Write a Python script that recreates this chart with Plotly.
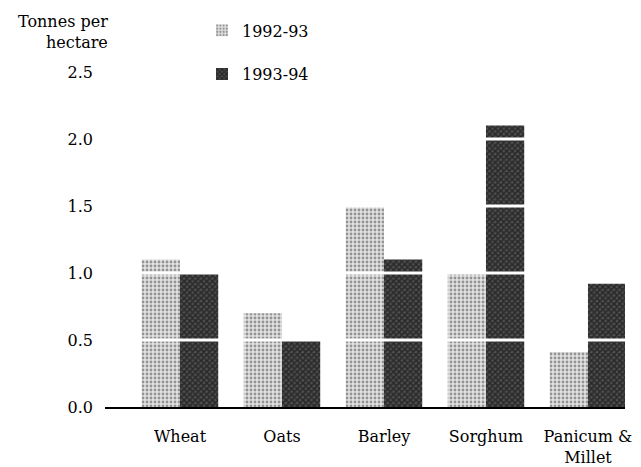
import plotly.graph_objects as go

categories = ["Wheat", "Oats", "Barley", "Sorghum", "Panicum &<br>Millet"]
series_names = ["1992-93", "1993-94"]
values_1992 = [1.1, 0.7, 1.5, 1.0, 0.41]
values_1993 = [1.0, 0.5, 1.1, 2.1, 0.92]
tick_vals = [0.0, 0.5, 1.0, 1.5, 2.0, 2.5]
tick_text = ["0.0", "0.5", "1.0", "1.5", "2.0", "2.5"]
grid_vals = [0.5, 1.0, 1.5, 2.0]

FONT = "DejaVu Serif"

fig = go.Figure()
fig.add_trace(go.Bar(
    x=categories, y=values_1992, name=series_names[0], legendgroup="a",
    marker=dict(color="#d0d0d0", line=dict(width=0),
                pattern=dict(shape=".", fgcolor="#444444", bgcolor="#e2e2e2", size=4, solidity=0.4)),
))
fig.add_trace(go.Bar(
    x=categories, y=values_1993, name=series_names[1], legendgroup="b",
    marker=dict(color="#1a1a1a", line=dict(width=0),
                pattern=dict(shape="x", fgcolor="#000000", bgcolor="#4e4e4e", size=4, solidity=0.6)),
))

for g in grid_vals:
    fig.add_shape(type="line", xref="paper", x0=0, x1=1, yref="y", y0=g, y1=g,
                  line=dict(color="white", width=3), layer="above")

# plot area: 520 x 335 px
fig.add_annotation(text="Tonnes per<br>hectare", xref="paper", yref="paper",
                   x=(110 - 105) / 520, y=1.0, yshift=18, xanchor="right", yanchor="bottom",
                   showarrow=False, align="right", font=dict(family=FONT, size=16, color="black"))

fig.update_layout(
    width=641, height=467,
    margin=dict(l=97, r=24, t=64, b=68, autoexpand=False),
    paper_bgcolor="white", plot_bgcolor="white",
    barmode="group", bargap=0.25, bargroupgap=0,
    font=dict(family=FONT, size=16, color="black"),
    showlegend=True,
    legend=dict(x=(202 - 105) / 520, y=1.175, xanchor="left", yanchor="top", traceorder="grouped",
                tracegroupgap=20, font=dict(family=FONT, size=16), itemwidth=30,
                bgcolor="rgba(0,0,0,0)"),
    xaxis=dict(range=[-0.735, 4.363], showline=True, linecolor="black", linewidth=2,
               showgrid=False, ticks="", tickfont=dict(family=FONT, size=16),
               ticklabelstandoff=14),
    yaxis=dict(range=[0, 2.5], tickvals=tick_vals, ticktext=tick_text, showgrid=False,
               zeroline=False, showline=False, ticks="", tickfont=dict(family=FONT, size=16),
               ticklabelstandoff=11),
)

fig.write_html("out.html")
